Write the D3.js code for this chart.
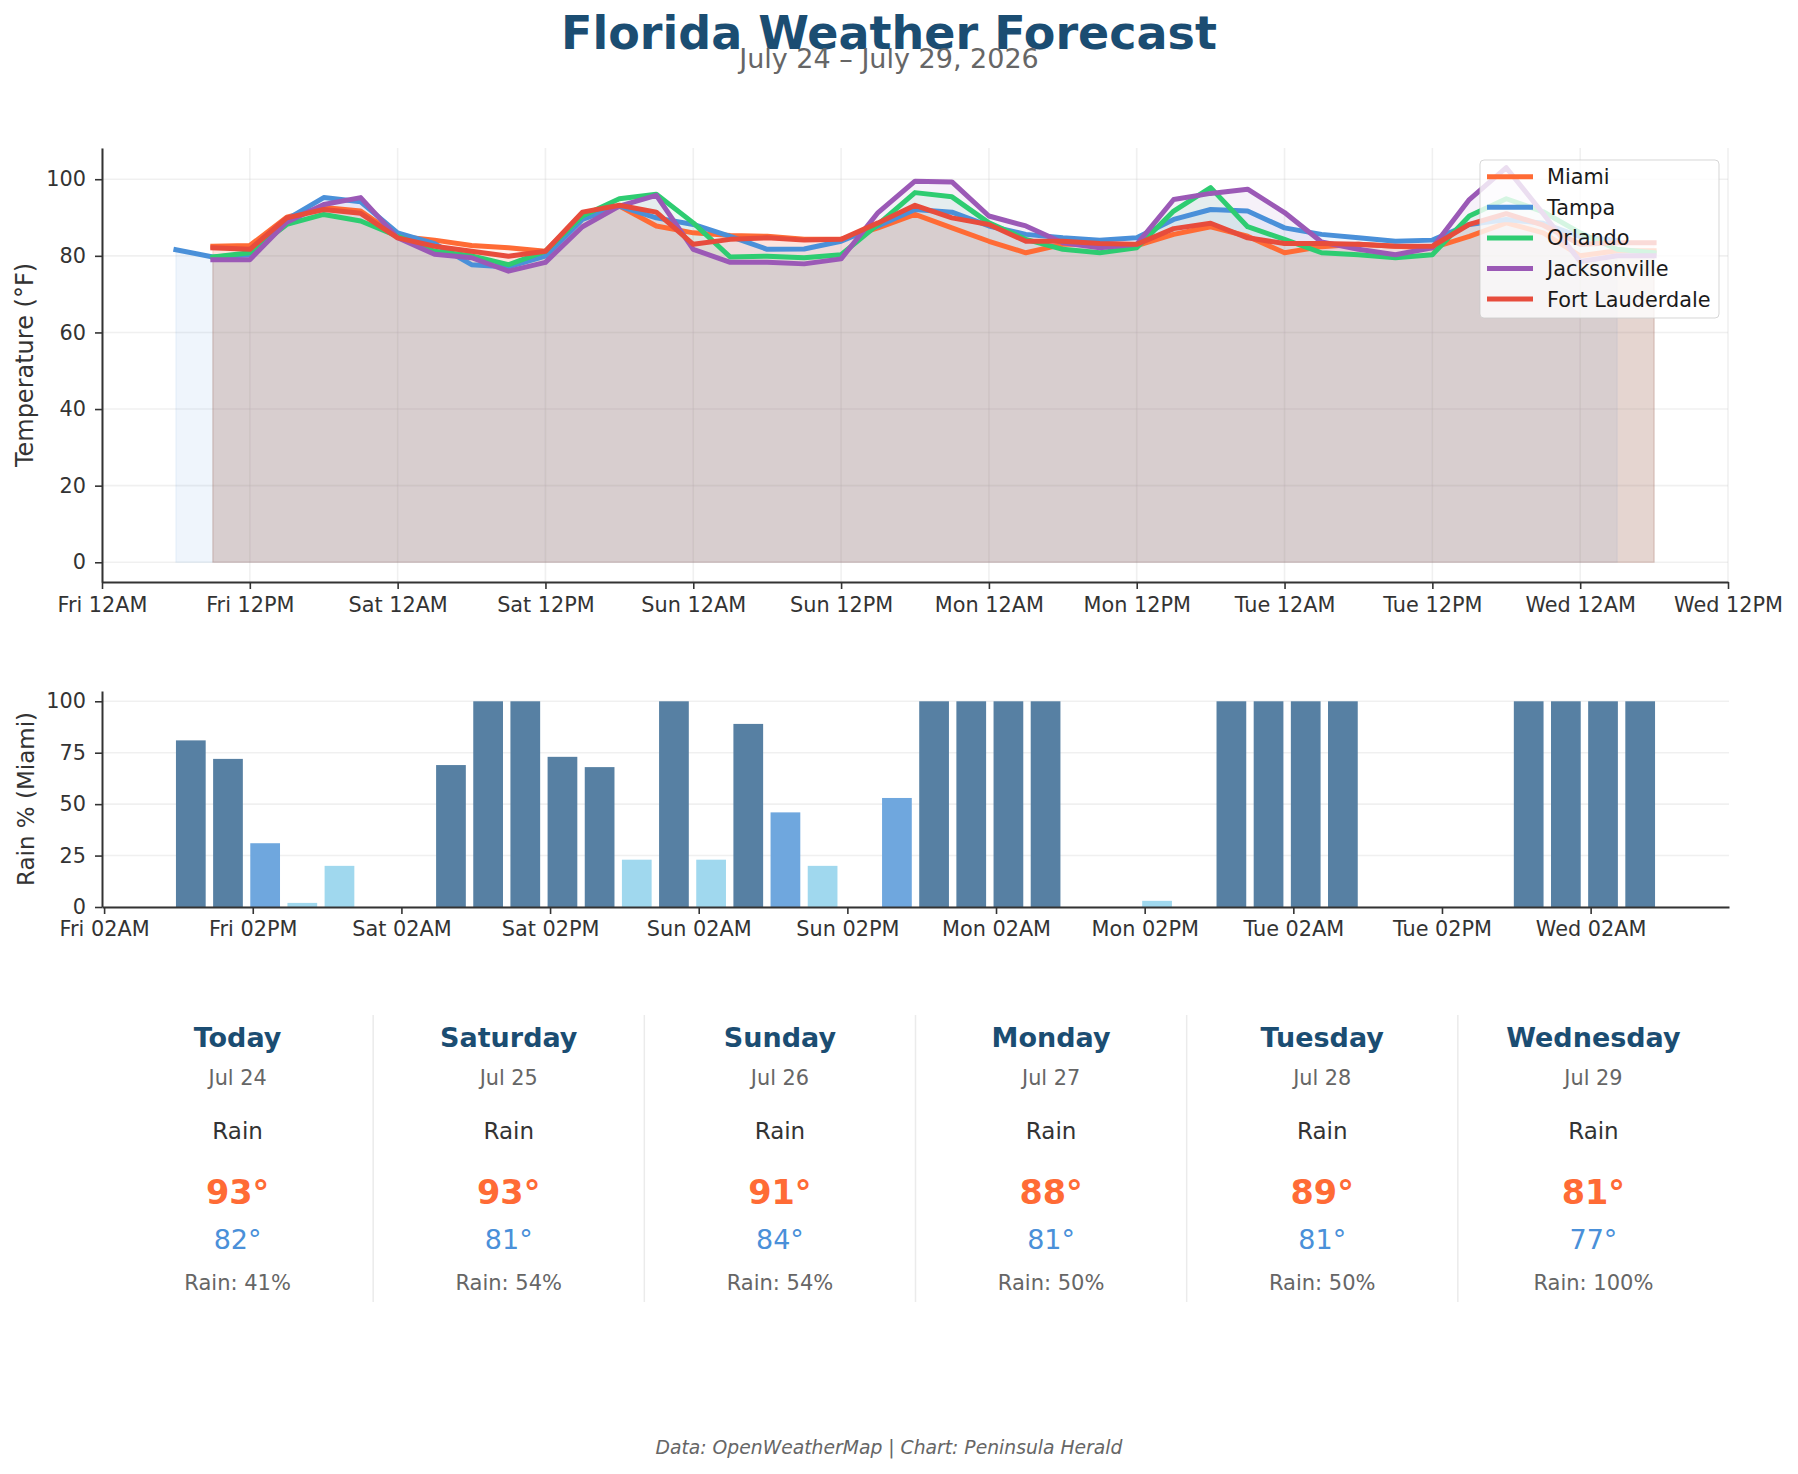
<!DOCTYPE html>
<html>
<head>
<meta charset="utf-8">
<script src="https://cdn.jsdelivr.net/npm/d3@7"></script>
<style>
  body { margin: 0; background: #fff; }
  svg text { font-family: "DejaVu Sans", sans-serif; }
</style>
</head>
<body>
<svg id="chart" width="1798" height="1474"></svg>
<script>
// forecast data (3-hourly, hours counted from Fri Jul 24 00:00)
const cities = ["Miami", "Tampa", "Orlando", "Jacksonville", "Fort Lauderdale"];
const cityColors = ["#ff6b35", "#4a90d9", "#2ecc71", "#9b59b6", "#e74c3c"];
const cityStartHour = [9, 6, 9, 9, 9];

const miamiTemps = [82.5,82.7,90.1,92.6,91.7,85.1,84.1,82.7,82.1,81.2,
  90.8,93.0,87.8,86.0,85.3,85.1,84.3,84.3,87.3,90.8,
  87.3,83.8,80.8,83.0,83.0,82.7,85.6,87.6,85.1,80.8,
  82.4,83.0,82.5,82.1,85.1,88.6,86.0,80.0,81.3,81.3];
const tampaTemps = [81.6,79.7,80.3,89.5,95.2,94.1,86.0,83.2,77.7,77.1,
  79.9,89.5,93.0,89.9,88.2,85.1,81.7,81.8,83.8,87.8,
  92.1,91.4,87.8,85.6,84.7,84.1,84.7,89.5,92.1,91.7,
  87.3,85.6,84.7,83.8,84.1,88.2,89.5,88.5,85.0,84.0];
const orlandoTemps = [79.7,80.8,88.2,90.8,89.1,85.1,81.2,80.0,77.7,81.2,
  90.4,94.9,96.1,88.6,79.7,79.9,79.5,80.3,88.2,96.5,
  95.4,88.6,84.3,81.7,80.8,82.1,91.7,97.8,87.6,84.3,
  80.8,80.3,79.5,80.3,90.4,94.9,91.5,86.0,81.7,80.8];
const jacksonvilleTemps = [79.0,79.0,88.8,93.4,95.2,84.7,80.4,79.5,76.0,78.3,
  87.6,93.0,95.8,81.7,78.3,78.3,77.9,79.2,91.3,99.5,
  99.3,90.4,87.8,83.4,82.1,83.0,94.7,96.3,97.4,91.3,
  83.6,81.7,80.3,82.1,94.7,103.0,91.0,78.5,80.0,80.0];
const fortLauderdaleTemps = [82.1,81.7,89.9,92.1,91.1,84.7,82.5,81.2,79.9,81.2,
  91.4,93.2,91.4,83.0,84.3,84.7,84.1,84.3,88.6,93.2,
  89.9,88.2,83.8,83.8,83.2,83.0,87.1,88.5,84.7,83.2,
  83.2,83.0,82.5,82.5,88.2,91.0,88.0,83.0,83.4,83.4];
const cityTemps = [miamiTemps, tampaTemps, orlandoTemps, jacksonvilleTemps, fortLauderdaleTemps];

// Miami precipitation probability, same times as miamiTemps
const miamiRain = [81,72,31,2,20,0,0,69,100,100,
  73,68,23,100,23,89,46,20,0,53,
  100,100,100,100,0,0,3,0,100,100,
  100,100,0,0,0,0,100,100,100,100];

// daily summary cards
const dayNames = ["Today", "Saturday", "Sunday", "Monday", "Tuesday", "Wednesday"];
const dayDates = ["Jul 24", "Jul 25", "Jul 26", "Jul 27", "Jul 28", "Jul 29"];
const dayConditions = ["Rain", "Rain", "Rain", "Rain", "Rain", "Rain"];
const dayHighs = [93, 93, 91, 88, 89, 81];
const dayLows = [82, 81, 84, 81, 81, 77];
const dayRainChance = [41, 54, 54, 50, 50, 100];

const startDay = new Date(2026, 6, 24, 0, 0);
// fractional hours allowed (d3 offset floors its step)
const hoursFrom = h => new Date(+startDay + h * 3600e3);

const svg = d3.select("#chart");
const titleColor = "#1b4d72";
const textColor = "#333";

// ---------- titles ----------
svg.append("text").attr("x", 889).attr("y", 49).attr("text-anchor", "middle")
  .attr("font-size", 46).attr("font-weight", "bold").attr("fill", titleColor)
  .text("Florida Weather Forecast");
svg.append("text").attr("x", 889).attr("y", 68).attr("text-anchor", "middle")
  .attr("font-size", 27).attr("fill", "#666")
  .text("July 24 \u2013 July 29, 2026");

// ---------- temperature chart ----------
const tp = {left: 102, right: 1728, top: 148, bottom: 582};
const series = cities.map((c, i) => ({
  name: c, color: cityColors[i],
  values: cityTemps[i].map((v, k) => ({t: hoursFrom(cityStartHour[i] + 3 * k), v: v}))
}));
const tMax = d3.max(cityTemps, a => d3.max(a));
const tPad = tMax * 0.05;

const xT = d3.scaleTime().domain([hoursFrom(0), hoursFrom(132)]).range([tp.left, tp.right]);
const yT = d3.scaleLinear().domain([-tPad, tMax + tPad]).range([tp.bottom, tp.top]);

const gT = svg.append("g");
const xTicks = d3.timeHour.range(hoursFrom(0), hoursFrom(133), 12);
const yTicks = [0, 20, 40, 60, 80, 100];

gT.append("g").selectAll("line").data(xTicks).join("line")
  .attr("x1", d => xT(d)).attr("x2", d => xT(d)).attr("y1", tp.top).attr("y2", tp.bottom)
  .attr("stroke", "#ccc").attr("stroke-opacity", 0.3).attr("stroke-width", 1.6);
gT.append("g").selectAll("line").data(yTicks).join("line")
  .attr("x1", tp.left).attr("x2", tp.right).attr("y1", d => yT(d)).attr("y2", d => yT(d))
  .attr("stroke", "#ccc").attr("stroke-opacity", 0.3).attr("stroke-width", 1.6);

const area = d3.area().x(d => xT(d.t)).y0(yT(0)).y1(d => yT(d.v));
const line = d3.line().x(d => xT(d.t)).y(d => yT(d.v));

gT.append("g").selectAll("path").data(series).join("path")
  .attr("d", d => area(d.values))
  .attr("fill", d => d.color).attr("fill-opacity", 0.085)
  .attr("stroke", d => d.color).attr("stroke-opacity", 0.085).attr("stroke-width", 1.2);

gT.append("g").selectAll("path").data(series).join("path")
  .attr("d", d => line(d.values))
  .attr("fill", "none").attr("stroke", d => d.color).attr("stroke-width", 5)
  .attr("stroke-linejoin", "round").attr("stroke-linecap", "square");

gT.append("g").attr("transform", `translate(0,${tp.bottom})`)
  .call(d3.axisBottom(xT).tickValues(xTicks).tickFormat(d3.timeFormat("%a %I%p"))
    .tickSize(7).tickSizeOuter(0).tickPadding(8));
gT.append("g").attr("transform", `translate(${tp.left},0)`)
  .call(d3.axisLeft(yT).tickValues(yTicks).tickSize(7).tickSizeOuter(0).tickPadding(9));

gT.append("text").attr("transform", `translate(33,${(tp.top + tp.bottom) / 2}) rotate(-90)`)
  .attr("text-anchor", "middle").attr("font-size", 24).attr("fill", textColor)
  .text("Temperature (\u00b0F)");

// legend
const lg = svg.append("g").attr("transform", "translate(1480,160)");
lg.append("rect").attr("width", 239).attr("height", 158).attr("rx", 4)
  .attr("fill", "#fff").attr("fill-opacity", 0.8).attr("stroke", "#ccc").attr("stroke-opacity", 0.8);
const lgRows = lg.selectAll("g").data(series).join("g")
  .attr("transform", (d, i) => `translate(0,${16.7 + 30.6 * i})`);
lgRows.append("line").attr("x1", 7).attr("x2", 53)
  .attr("stroke", d => d.color).attr("stroke-width", 5);
lgRows.append("text").attr("x", 67).attr("y", 7.5).attr("font-size", 20.8).attr("fill", "#1a1a1a")
  .text(d => d.name);

// ---------- rain chart ----------
const rp = {left: 102, right: 1729, top: 691, bottom: 907};
const rainData = miamiRain.map((v, k) => ({t: hoursFrom(cityStartHour[0] + 3 * k), v: v}));
const barHours = 2.4;
const firstBar = cityStartHour[0] - barHours / 2;
const lastBar = cityStartHour[0] + 3 * (miamiRain.length - 1) + barHours / 2;
const rPad = (lastBar - firstBar) * 0.05;

const xR = d3.scaleTime().domain([hoursFrom(firstBar - rPad), hoursFrom(lastBar + rPad)])
  .range([rp.left, rp.right]);
const yR = d3.scaleLinear().domain([0, 105]).range([rp.bottom, rp.top]);
const rainTicks = [0, 25, 50, 75, 100];

const gR = svg.append("g");
gR.append("g").selectAll("line").data(rainTicks).join("line")
  .attr("x1", rp.left).attr("x2", rp.right).attr("y1", d => yR(d)).attr("y2", d => yR(d))
  .attr("stroke", "#ccc").attr("stroke-opacity", 0.3).attr("stroke-width", 1.6);

const rainColor = v => v >= 60 ? "#5780a3" : v >= 30 ? "#6fa7de" : "#a0d8ee";
const halfBar = barHours * 1800e3;
gR.append("g").selectAll("rect").data(rainData).join("rect")
  .attr("x", d => xR(new Date(+d.t - halfBar)))
  .attr("width", d => xR(new Date(+d.t + halfBar)) - xR(new Date(+d.t - halfBar)))
  .attr("y", d => yR(d.v)).attr("height", d => yR(0) - yR(d.v))
  .attr("fill", d => rainColor(d.v));

const rainXTicks = d3.timeHour.range(xR.domain()[0], xR.domain()[1], 12);
gR.append("g").attr("transform", `translate(0,${rp.bottom})`)
  .call(d3.axisBottom(xR).tickValues(rainXTicks).tickFormat(d3.timeFormat("%a %I%p"))
    .tickSize(7).tickSizeOuter(0).tickPadding(7));
gR.append("g").attr("transform", `translate(${rp.left},0)`)
  .call(d3.axisLeft(yR).tickValues(rainTicks).tickSize(7).tickSizeOuter(0).tickPadding(9));

gR.append("text").attr("transform", `translate(34,${(rp.top + rp.bottom) / 2}) rotate(-90)`)
  .attr("text-anchor", "middle").attr("font-size", 23).attr("fill", textColor)
  .text("Rain % (Miami)");

// axis styling
svg.selectAll(".domain").attr("stroke", "#333").attr("stroke-width", 2);
svg.selectAll(".tick line").attr("stroke", "#333").attr("stroke-width", 1.6);
svg.selectAll(".tick text").attr("font-size", 20.8).attr("fill", textColor)
  .attr("font-family", "DejaVu Sans");

// ---------- daily cards ----------
const cardX = d3.scaleBand().domain(dayNames).range([102, 1729]);
const cards = svg.append("g").selectAll("g").data(dayNames).join("g")
  .attr("transform", d => `translate(${cardX(d) + cardX.bandwidth() / 2},0)`);

svg.append("g").selectAll("line").data(dayNames.slice(1)).join("line")
  .attr("x1", d => cardX(d)).attr("x2", d => cardX(d)).attr("y1", 1015).attr("y2", 1302)
  .attr("stroke", "#ebebeb").attr("stroke-width", 1.5);

cards.append("text").attr("y", 1047).attr("text-anchor", "middle").attr("font-size", 27)
  .attr("font-weight", "bold").attr("fill", titleColor).text(d => d);
cards.append("text").attr("y", 1085).attr("text-anchor", "middle").attr("font-size", 20.8)
  .attr("fill", "#666").text((d, i) => dayDates[i]);
cards.append("text").attr("y", 1139).attr("text-anchor", "middle").attr("font-size", 23)
  .attr("fill", textColor).text((d, i) => dayConditions[i]);
cards.append("text").attr("y", 1204).attr("text-anchor", "middle").attr("font-size", 33.5)
  .attr("font-weight", "bold").attr("fill", cityColors[0]).text((d, i) => dayHighs[i] + "\u00b0");
cards.append("text").attr("y", 1249).attr("text-anchor", "middle").attr("font-size", 27)
  .attr("fill", cityColors[1]).text((d, i) => dayLows[i] + "\u00b0");
cards.append("text").attr("y", 1290).attr("text-anchor", "middle").attr("font-size", 21)
  .attr("fill", "#666").text((d, i) => "Rain: " + dayRainChance[i] + "%");

// footer
svg.append("text").attr("x", 889).attr("y", 1454).attr("text-anchor", "middle")
  .attr("font-size", 18.75).attr("font-style", "italic").attr("fill", "#666")
  .text("Data: OpenWeatherMap | Chart: Peninsula Herald");
</script>
</body>
</html>
